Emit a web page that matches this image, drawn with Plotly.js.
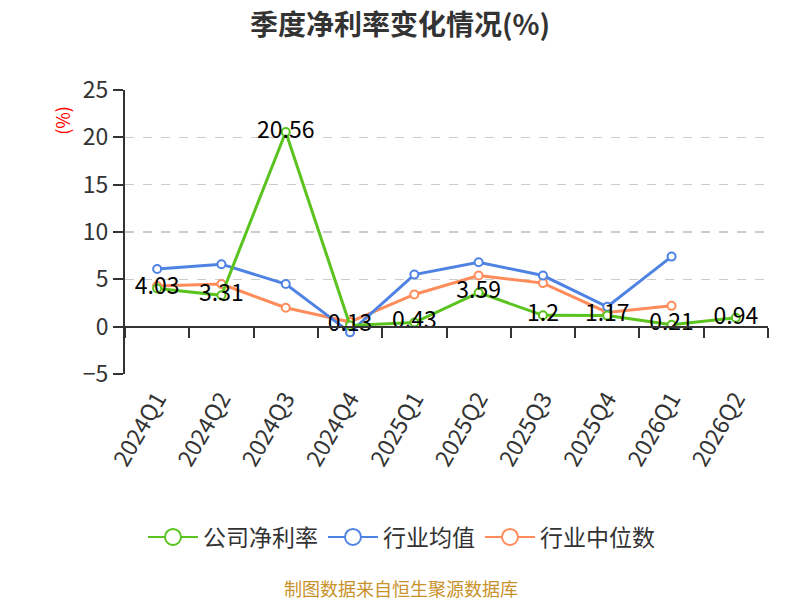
<!DOCTYPE html>
<html>
<head>
<meta charset="utf-8">
<script src="https://cdn.plot.ly/plotly-3.0.1.min.js"></script>
<style>
  html, body { margin: 0; padding: 0; background: #fff; }
  #chart { width: 800px; height: 600px; }
</style>
</head>
<body>
<div id="chart"></div>
<script>
// 季度
var quarters = ['2024Q1', '2024Q2', '2024Q3', '2024Q4', '2025Q1', '2025Q2', '2025Q3', '2025Q4', '2026Q1', '2026Q2'];
// 公司净利率
var company = [4.03, 3.31, 20.56, 0.13, 0.43, 3.59, 1.2, 1.17, 0.21, 0.94];
// 行业均值
var industryAvg = [6.1, 6.6, 4.5, -0.6, 5.5, 6.8, 5.4, 2.1, 7.4, null];
// 行业中位数
var industryMed = [4.3, 4.5, 2.0, 0.5, 3.4, 5.4, 4.6, 1.5, 2.2, null];

var names = ['公司净利率', '行业均值', '行业中位数'];
var colors = ['#5bc31f', '#4f83e3', '#ff8c5a'];
var font = 'Noto Sans CJK SC, Noto Sans, sans-serif';

function line(y, i, withText) {
  var t = {
    x: quarters, y: y, name: names[i], type: 'scatter',
    mode: withText ? 'lines+markers+text' : 'lines+markers',
    line: {color: colors[i], width: 3},
    marker: {symbol: 'circle', size: 8, color: '#fff', line: {color: colors[i], width: 2}},
    showlegend: false, hoverinfo: 'skip', cliponaxis: false
  };
  if (withText) {
    t.text = y.map(String);
    t.textposition = 'middle center';
    t.textfont = {family: font, size: 23, color: '#000'};
  }
  return t;
}

// legend only entries (bigger circles)
function legendItem(i) {
  return {
    x: [null], y: [null], xaxis: 'x2', name: names[i], type: 'scatter', mode: 'lines+markers',
    line: {color: colors[i], width: 2},
    marker: {symbol: 'circle', size: 18, color: '#fff', line: {color: colors[i], width: 2}}
  };
}

var data = [
  line(industryMed, 2, false),
  line(industryAvg, 1, false),
  line(company, 0, true),
  legendItem(0), legendItem(1), legendItem(2)
];

var layout = {
  width: 800, height: 600,
  margin: {l: 125, r: 32, t: 90, b: 226},
  paper_bgcolor: '#fff', plot_bgcolor: '#fff',
  font: {family: font, color: '#333'},
  title: {text: '<b>季度净利率变化情况(%)</b>', x: 0.5, xanchor: 'center', y: 0.958, yanchor: 'middle',
          font: {family: font, size: 28, color: '#333'}},
  xaxis: {
    type: 'category', categoryarray: quarters, range: [-0.5, 9.5],
    showline: false, showgrid: false, zeroline: false, ticks: '',
    tickangle: -60, tickfont: {size: 23, color: '#333'}, ticklabelstandoff: 6, fixedrange: true
  },
  xaxis2: {
    type: 'category', categoryarray: quarters, range: [-0.5, 9.5],
    overlaying: 'x', anchor: 'free', position: 5 / 30,
    showline: true, linecolor: '#333', linewidth: 2,
    ticks: 'outside', tickson: 'boundaries', ticklen: 10, tickwidth: 2, tickcolor: '#333',
    showticklabels: false, showgrid: false, zeroline: false, fixedrange: true
  },
  yaxis: {
    range: [-5, 25], dtick: 5, tick0: 0,
    showline: true, linecolor: '#333', linewidth: 2,
    ticks: 'outside', ticklen: 10, tickwidth: 2, tickcolor: '#333',
    gridcolor: '#cccccc', griddash: 'dash', gridwidth: 1.5, zeroline: false,
    tickfont: {size: 23, color: '#333'}, fixedrange: true
  },
  legend: {
    orientation: 'h', x: 0.43, xanchor: 'center', y: -0.574, yanchor: 'middle',
    font: {family: font, size: 23, color: '#333'}, itemwidth: 50
  },
  annotations: [
    {text: '(%)', xref: 'paper', yref: 'paper', x: -0.098, xanchor: 'center', y: 0.895, yanchor: 'middle',
     textangle: -90, showarrow: false, font: {family: font, size: 18, color: '#ff0000'}},
    {text: '制图数据来自恒生聚源数据库', xref: 'paper', yref: 'paper', x: 0.43, y: -0.754, yanchor: 'middle',
     showarrow: false, font: {family: font, size: 18, color: '#c8922a'}}
  ]
};

Plotly.newPlot('chart', data, layout, {displayModeBar: false, staticPlot: true});
</script>
</body>
</html>
